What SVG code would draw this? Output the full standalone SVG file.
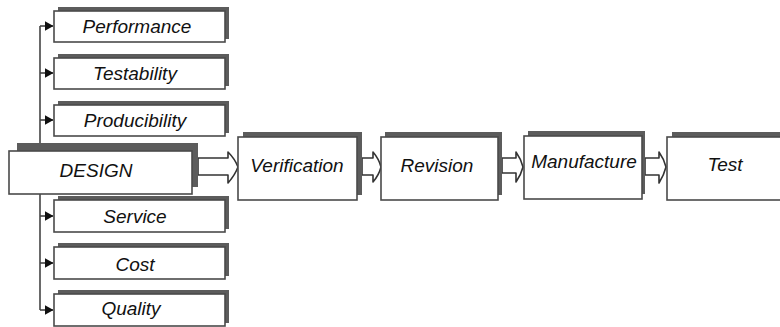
<svg xmlns="http://www.w3.org/2000/svg" width="780" height="327" viewBox="0 0 780 327">
<style>
.box{fill:#fff;stroke:#4a4a4a;stroke-width:1.6}
.sh{fill:#5c5c5c}
.t{font-family:"Liberation Sans",Arial,sans-serif;font-style:italic;font-size:19px;fill:#111;text-anchor:middle}
.ln{fill:none;stroke:#444;stroke-width:1.6}
.ba{fill:#fff;stroke:#333;stroke-width:1.6;stroke-linejoin:round}
</style>
<defs>
<marker id="ah" markerWidth="9" markerHeight="10" refX="8.5" refY="5" orient="auto" markerUnits="userSpaceOnUse">
<path d="M0,0 L9,5 L0,10 Z" fill="#111"/>
</marker>
</defs>
<rect width="780" height="327" fill="#fff"/>
<g id="connectors">
<path class="ln" d="M40,310 L40,26"/>
<path class="ln" d="M40,26 L53,26" marker-end="url(#ah)"/>
<path class="ln" d="M40,73 L53,73" marker-end="url(#ah)"/>
<path class="ln" d="M40,120 L53,120" marker-end="url(#ah)"/>
<path class="ln" d="M40,216 L53,216" marker-end="url(#ah)"/>
<path class="ln" d="M40,263 L53,263" marker-end="url(#ah)"/>
<path class="ln" d="M40,310 L53,310" marker-end="url(#ah)"/>
<path class="ba" d="M198,158 L228,158 L228,152 Q235,159 238,167 Q235,175 228,183 L228,175 L198,175 Z"/>
<path class="ba" d="M362,158 L373,158 L373,152 Q379,159 381,167 Q379,175 373,182 L373,175 L362,175 Z"/>
<path class="ba" d="M502,158 L516,158 L516,152 Q521,159 523,167 Q521,175 516,182 L516,173 L502,173 Z"/>
<path class="ba" d="M645,158 L659,158 L659,152 Q664,159 666,167 Q664,175 659,183 L659,175 L645,175 Z"/>
</g>
<g id="performance"><rect class="sh" x="58" y="7" width="171" height="32"/><rect class="box" x="54" y="11" width="171" height="31"/><text class="t" x="137" y="33">Performance</text></g>
<g id="testability"><rect class="sh" x="58" y="54" width="171" height="32"/><rect class="box" x="54" y="58" width="171" height="31"/><text class="t" x="135" y="80">Testability</text></g>
<g id="producibility"><rect class="sh" x="58" y="101" width="171" height="32"/><rect class="box" x="54" y="105" width="171" height="31"/><text class="t" x="135" y="127">Producibility</text></g>
<g id="design"><rect class="sh" x="17" y="143" width="181" height="44"/><rect class="box" x="9" y="151" width="183" height="43"/><text class="t" x="96" y="177">DESIGN</text></g>
<g id="service"><rect class="sh" x="58" y="196" width="171" height="33"/><rect class="box" x="54" y="200" width="171" height="32"/><text class="t" x="135" y="223">Service</text></g>
<g id="cost"><rect class="sh" x="58" y="243" width="171" height="33"/><rect class="box" x="54" y="247" width="171" height="32"/><text class="t" x="135" y="271">Cost</text></g>
<g id="quality"><rect class="sh" x="58" y="290" width="171" height="33"/><rect class="box" x="54" y="294" width="171" height="32"/><text class="t" x="131" y="315">Quality</text></g>
<g id="verification"><rect class="sh" x="243" y="132" width="119" height="63"/><rect class="box" x="238" y="137" width="119" height="63"/><text class="t" x="297" y="172">Verification</text></g>
<g id="revision"><rect class="sh" x="385" y="132" width="117" height="63"/><rect class="box" x="381" y="137" width="117" height="63"/><text class="t" x="437" y="172">Revision</text></g>
<g id="manufacture"><rect class="sh" x="528" y="131" width="117" height="63"/><rect class="box" x="524" y="136" width="118" height="63"/><text class="t" x="584" y="168">Manufacture</text></g>
<g id="test"><rect class="sh" x="672" y="132" width="120" height="63"/><rect class="box" x="667" y="137" width="120" height="63"/><text class="t" x="725" y="171">Test</text></g>
</svg>
